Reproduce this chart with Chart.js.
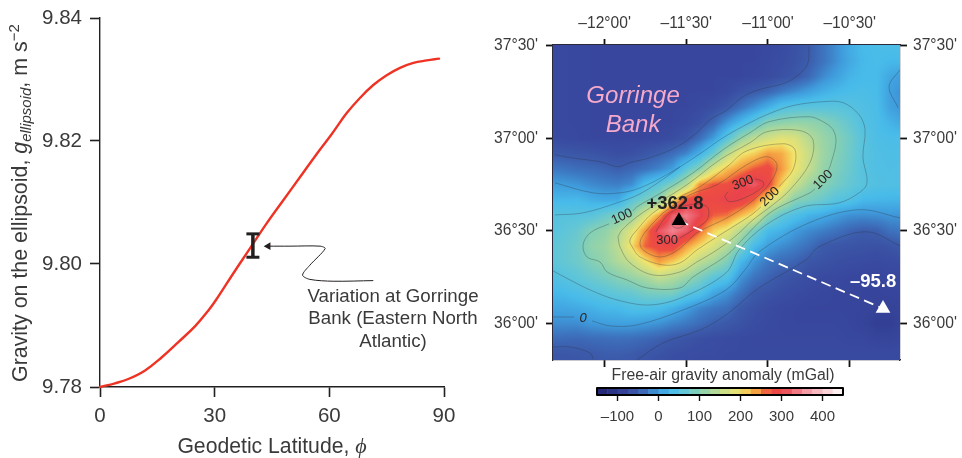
<!DOCTYPE html>
<html><head><meta charset="utf-8">
<script src="https://cdn.jsdelivr.net/npm/chart.js@4"></script>
<style>
html,body{margin:0;padding:0;background:#fff;width:962px;height:458px;overflow:hidden}
canvas{position:absolute;display:block}
</style></head><body>
<canvas id="gravity" width="480" height="458" style="left:0;top:0"></canvas>
<canvas id="map" width="482" height="458" style="left:480px;top:0"></canvas>
<canvas id="bar" width="482" height="98" style="left:480px;top:360px"></canvas>
<script>
const FONT='"Liberation Sans"', INK='#3a3a3a';
// ---- left panel data ----
const latitudes=[0,3.9,7.4,11.8,16.1,20.5,24.9,28.3,30.3,34.9,39.2,43.6,48,52.3,56.7,60.6,64.5,68,71.5,75,78.5,82,85.5,88.7];
const gravity=[9.78,9.7806,9.7813,9.7827,9.7848,9.7873,9.7899,9.7924,9.7941,9.7985,9.8025,9.8066,9.8104,9.8141,9.8179,9.8211,9.8245,9.827,9.8291,9.8307,9.8319,9.8327,9.8331,9.8334];
const gorringeRangeLat=[40,40];
const gorringeRangeG=[9.8011,9.8049];
const arrowLat=[71.5,61,54.9,53,54.9,58.9,57.6,49.7,44];
const arrowG=[9.7973,9.7972,9.7975,9.7982,9.7998,9.8025,9.8029,9.8029,9.8029];
const gravityYTicks=[9.78,9.80,9.82,9.84];
const gravityXTicks=[0,30,60,90];
// ---- map data ----
const gridLons=[-12.3333,-12.25,-12.1667,-12.0833,-12,-11.9167,-11.8333,-11.75,-11.6667,-11.5833,-11.5,-11.4167,-11.3333,-11.25,-11.1667,-11.0833,-11,-10.9167,-10.8333,-10.75,-10.6667,-10.5833,-10.5,-10.4167,-10.3333,-10.25,-10.1667];
const gridLats=[37.5,37.4167,37.3333,37.25,37.1667,37.0833,37,36.9167,36.8333,36.75,36.6667,36.5833,36.5,36.4167,36.3333,36.25,36.1667,36.0833,36,35.9167,35.8333,35.75];
const anomalyRows=[
[-72,-74,-75,-76,-76,-76,-76,-76,-76,-76,-76,-76,-76,-76,-76,-76,-74,-70,-62,-50,-30,-10,15,30,35,36,36],
[-72,-74,-75,-76,-76,-76,-76,-76,-76,-76,-76,-76,-76,-76,-76,-76,-72,-68,-60,-48,-30,-10,12,28,32,28,28],
[-72,-74,-75,-76,-76,-76,-76,-76,-76,-76,-76,-76,-76,-76,-76,-74,-70,-62,-54,-38,-14,4,22,30,30,10,0],
[-73,-74,-75,-76,-76,-76,-76,-76,-76,-76,-76,-76,-76,-72,-60,-50,-40,-24,-10,4,18,28,34,36,32,3,-10],
[-73,-74,-75,-76,-76,-76,-76,-76,-76,-76,-76,-72,-66,-52,-30,-8,18,44,52,54,54,54,50,42,34,5,-8],
[-73,-74,-75,-76,-76,-76,-76,-76,-76,-76,-72,-62,-40,-5,28,60,98,106,112,110,102,84,66,46,36,22,10],
[-70,-72,-74,-76,-76,-76,-76,-76,-74,-68,-58,-32,0,52,110,148,166,184,176,142,118,100,78,52,38,34,36],
[-50,-53,-56,-58,-62,-66,-63,-55,-46,-34,-16,20,70,145,196,212,240,232,198,160,122,98,76,52,42,38,40],
[-25,-28,-33,-36,-40,-46,-39,-30,-16,3,58,100,180,222,245,268,280,242,195,155,115,92,72,50,42,40,42],
[2,0,-4,-12,-18,-20,-10,35,56,90,140,245,270,272,300,318,285,212,160,120,102,82,66,53,44,42,42],
[27,26,28,18,12,14,58,85,110,200,280,290,285,300,298,262,205,155,100,88,72,52,45,28,25,24,22],
[50,50,50,53,70,88,110,175,235,320,340,305,265,258,225,195,110,62,42,22,14,2,-8,-10,-8,-4,-5],
[52,58,70,95,108,135,180,245,315,345,320,265,212,190,140,85,32,20,0,-12,-20,-30,-40,-48,-45,-30,-25],
[60,65,78,108,118,148,205,265,280,290,240,205,175,140,90,30,3,-10,-20,-32,-50,-55,-58,-60,-62,-58,-50],
[57,65,75,95,112,135,155,198,240,215,185,148,125,92,28,-5,-25,-35,-42,-55,-60,-65,-68,-70,-72,-70,-68],
[42,50,60,72,85,100,115,130,155,140,120,90,60,45,-5,-28,-42,-55,-62,-68,-72,-74,-76,-78,-78,-76,-76],
[27,30,38,48,55,65,70,85,90,90,60,45,12,-5,-28,-50,-58,-65,-70,-74,-76,-78,-78,-80,-80,-78,-78],
[10,10,14,20,28,30,40,40,35,20,3,-15,-25,-32,-52,-62,-70,-74,-76,-78,-78,-78,-78,-80,-82,-84,-80],
[-10,-10,-10,-2,2,4,4,0,-6,-16,-24,-35,-45,-52,-60,-68,-72,-75,-76,-76,-76,-76,-78,-82,-93,-92,-82],
[-35,-36,-38,-35,-34,-32,-34,-38,-44,-52,-58,-64,-68,-70,-72,-74,-74,-74,-74,-74,-74,-74,-76,-76,-80,-80,-76],
[-55,-55,-53,-51,-48,-47,-50,-55,-60,-65,-68,-70,-70,-72,-72,-72,-72,-72,-72,-72,-72,-72,-72,-72,-72,-72,-72],
[-62,-62,-60,-58,-55,-55,-58,-62,-68,-70,-72,-72,-73,-73,-73,-73,-73,-73,-73,-73,-73,-73,-73,-73,-73,-73,-73]
];
const colorStops=[-150,-100,-75,-50,-25,0,30,60,100,150,200,225,250,270,300,330,350,400,450];
const colorValues=['#23236f','#2f3a8e','#38489e','#3c5aaa','#3d78c2','#3f9cdc','#48bbea','#5fc5d8','#87d0b2','#c0dc8e','#f1e46c','#f6b84b','#f28a3c','#ed4f40','#e9434c','#ee6d78','#f28d98','#f9c6cc','#ffffff'];
const lonTicks=[-12,-11.5,-11,-10.5];
const lonTickLabels=["\u201312\u00b000'","\u201311\u00b030'","\u201311\u00b000'","\u201310\u00b030'"];
const latTicks=[36,36.5,37,37.5];
const latTickLabels=["36\u00b000'","36\u00b030'","37\u00b000'","37\u00b030'"];
const barTicks=[-100,0,100,200,300,400];
const peakSite=[-11.545,36.554];
const troughSite=[-10.296,36.081];
const lineMinus50Top=[[-12.304,36.911],[-12.212,36.895],[-12.028,36.873],[-11.918,36.846],[-11.845,36.868],[-11.722,36.895],[-11.557,36.954],[-11.435,37.030],[-11.355,37.100],[-11.257,37.149],[-11.153,37.224],[-11.055,37.262],[-10.890,37.300],[-10.798,37.354],[-10.755,37.408],[-10.749,37.495]];
const lineOuterLoop=[[-12.304,36.759],[-12.071,36.705],[-11.906,36.705],[-11.783,36.732],[-11.600,36.813],[-11.398,36.927],[-11.275,37.003],[-11.110,37.084],[-10.994,37.132],[-10.847,37.176],[-10.663,37.197],[-10.541,37.192],[-10.443,37.127],[-10.406,37.046],[-10.419,36.900],[-10.394,36.759],[-10.443,36.705],[-10.565,36.651],[-10.786,36.630],[-11.012,36.532],[-11.177,36.397],[-11.257,36.273],[-11.520,36.143],[-11.722,36.100],[-11.924,36.127],[-12.089,36.181],[-12.212,36.235],[-12.316,36.284]];
const lineLeftBranch=[[-12.304,36.586],[-12.132,36.597],[-11.924,36.651],[-11.783,36.700],[-11.630,36.786],[-11.539,36.846]];
const line100North=[[-11.826,36.608],[-11.802,36.630],[-11.643,36.711],[-11.459,36.813],[-11.275,36.938],[-11.110,37.030],[-10.994,37.089],[-10.749,37.116],[-10.663,37.089],[-10.602,37.046],[-10.584,36.976],[-10.621,36.846],[-10.633,36.824]];
const line100South=[[-10.712,36.727],[-10.743,36.705],[-10.927,36.630],[-11.018,36.576],[-11.141,36.468],[-11.257,36.365],[-11.459,36.251],[-11.539,36.192],[-11.741,36.192],[-11.863,36.235],[-11.985,36.278],[-12.028,36.332],[-12.108,36.359],[-12.132,36.424],[-12.089,36.489],[-11.973,36.538]];
const line150=[[-11.918,36.468],[-11.894,36.505],[-11.802,36.576],[-11.722,36.624],[-11.496,36.749],[-11.294,36.884],[-11.110,36.976],[-11.006,37.035],[-10.804,37.041],[-10.725,36.992],[-10.743,36.868],[-10.865,36.722],[-10.969,36.641],[-11.092,36.559],[-11.190,36.478],[-11.312,36.397],[-11.435,36.332],[-11.539,36.278],[-11.704,36.262],[-11.845,36.327],[-11.906,36.414],[-11.918,36.468]];
const line200=[[-10.933,36.738],[-10.847,36.830],[-10.835,36.938],[-10.908,36.970],[-11.129,36.932],[-11.251,36.846],[-11.416,36.738],[-11.539,36.684],[-11.704,36.597],[-11.802,36.505],[-11.845,36.451],[-11.832,36.414],[-11.783,36.359],[-11.643,36.316],[-11.539,36.327],[-11.435,36.397],[-11.312,36.468],[-11.214,36.522],[-11.092,36.592],[-11.043,36.630]];
const line250=[[-11.643,36.597],[-11.477,36.695],[-11.312,36.749],[-11.129,36.857],[-11.006,36.900],[-10.945,36.857],[-10.988,36.759],[-11.110,36.651],[-11.251,36.570],[-11.435,36.489],[-11.551,36.397],[-11.661,36.359],[-11.765,36.397],[-11.783,36.441],[-11.741,36.505],[-11.643,36.597]];
const line300East=[[-11.080,36.781],[-11.031,36.765],[-11.031,36.738],[-11.129,36.684],[-11.233,36.657],[-11.263,36.684],[-11.245,36.711]];
const line300West=[[-11.685,36.495],[-11.673,36.516],[-11.600,36.597],[-11.477,36.641],[-11.373,36.630],[-11.373,36.559],[-11.459,36.505],[-11.539,36.462]];
const line350=[[-11.588,36.549],[-11.551,36.576],[-11.496,36.549],[-11.539,36.516],[-11.581,36.522],[-11.588,36.549]];
const line0WestA=[[-12.316,36.035],[-12.187,36.035]];
const line0WestB=[[-12.077,36.014],[-11.967,35.987],[-11.802,35.992],[-11.520,36.073],[-11.257,36.181],[-11.141,36.289],[-11.055,36.386],[-10.749,36.543],[-10.443,36.614],[-10.192,36.570]];
const lineMinus50SW=[[-12.316,35.873],[-12.212,35.873],[-12.089,35.841],[-12.071,35.808]];
const lineMinus50S=[[-11.802,35.803],[-11.643,35.895],[-11.416,35.965],[-11.257,36.046],[-11.055,36.192],[-10.767,36.343],[-10.688,36.414],[-10.400,36.495],[-10.180,36.414]];
const lineEastEdge=[[-10.192,37.370],[-10.259,37.278],[-10.204,37.165]];
const contourLines=[lineMinus50Top,lineOuterLoop,lineLeftBranch,line100North,line100South,line150,line200,line250,line300East,line300West,line350,line0WestA,line0WestB,lineMinus50SW,lineMinus50S,lineEastEdge];
const noteTexts=[
 {t:'Variation at Gorringe',x:76.66,y:9.7946},
 {t:'Bank (Eastern North',x:76.66,y:9.7911},
 {t:'Atlantic)',x:76.66,y:9.7873}];
const mapTexts=[
 {t:'Gorringe',x:-11.826,y:37.225,f:'italic 24px '+FONT,c:'#f5a9cb'},
 {t:'Bank',x:-11.826,y:37.068,f:'italic 24px '+FONT,c:'#f5a9cb'},
 {t:'+362.8',x:-11.569,y:36.646,f:'bold 18.5px '+FONT,c:'#222'},
 {t:'\u201395.8',x:-10.357,y:36.224,f:'bold 18.5px '+FONT,c:'#fff'},
 {t:'100',x:-11.894,y:36.576,r:-25},
 {t:'100',x:-10.663,y:36.776,r:-45},
 {t:'200',x:-10.988,y:36.684,r:-45},
 {t:'300',x:-11.153,y:36.759,r:-20},
 {t:'300',x:-11.618,y:36.446},
 {t:'0',x:-12.132,y:36.030,f:'italic 13px '+FONT}];

function hexRGB(h){return [1,3,5].map(i=>parseInt(h.substr(i,2),16));}
const stopRGB=colorValues.map(hexRGB);
function colorFor(v){
  if(v<=colorStops[0])return stopRGB[0];
  for(let i=1;i<colorStops.length;i++){
    if(v<=colorStops[i]){
      const k=(v-colorStops[i-1])/(colorStops[i]-colorStops[i-1]),a=stopRGB[i-1],b=stopRGB[i];
      return [a[0]+(b[0]-a[0])*k,a[1]+(b[1]-a[1])*k,a[2]+(b[2]-a[2])*k];
    }
  }
  return stopRGB[stopRGB.length-1];
}
function cellValue(lon,lat){
  const dx=gridLons[1]-gridLons[0],dy=gridLats[1]-gridLats[0];
  let u=(lon-gridLons[0])/dx,w=(lat-gridLats[0])/dy;
  u=Math.max(0,Math.min(gridLons.length-1.001,u));w=Math.max(0,Math.min(gridLats.length-1.001,w));
  const i=Math.floor(u),j=Math.floor(w),a=u-i,b=w-j;
  return (anomalyRows[j][i]*(1-a)+anomalyRows[j][i+1]*a)*(1-b)+(anomalyRows[j+1][i]*(1-a)+anomalyRows[j+1][i+1]*a)*b;
}
const heatPlugin={id:'heat',beforeDatasetsDraw(c){
  const A=c.chartArea,w=Math.round(A.right-A.left),h=Math.round(A.bottom-A.top);
  const off=document.createElement('canvas');off.width=w;off.height=h;
  const o=off.getContext('2d'),img=o.createImageData(w,h);
  for(let py=0;py<h;py++){
    const lat=c.scales.y.getValueForPixel(A.top+py+.5);
    for(let px=0;px<w;px++){
      const lon=c.scales.x.getValueForPixel(A.left+px+.5);
      const col=colorFor(cellValue(lon,lat)),p=(py*w+px)*4;
      img.data[p]=col[0];img.data[p+1]=col[1];img.data[p+2]=col[2];img.data[p+3]=255;
    }
  }
  o.putImageData(img,0,0);c.ctx.drawImage(off,A.left,A.top);
}};
function drawTexts(c,list,defFont,defColor){
  const g=c.ctx;
  list.forEach(T=>{
    g.save();
    g.translate(c.scales.x.getPixelForValue(T.x),c.scales.y.getPixelForValue(T.y));
    if(T.r)g.rotate(T.r*Math.PI/180);
    g.font=T.f||defFont;g.fillStyle=T.c||defColor;g.textAlign='center';g.textBaseline='middle';
    g.fillText(T.t,0,0);g.restore();
  });
}
function drawRuns(g,runs,align){
  let tot=0;runs.forEach(r=>{g.font=r[1];tot+=g.measureText(r[0]).width;});
  let x=align==='center'?-tot/2:0;
  g.textAlign='left';g.textBaseline='alphabetic';
  runs.forEach(r=>{g.font=r[1];g.fillText(r[0],x,r[2]||0);x+=g.measureText(r[0]).width;});
}
const leftPlugin={id:'leftText',afterDatasetsDraw(c){
  const g=c.ctx;
  drawTexts(c,noteTexts,'18.7px '+FONT,INK);
  g.save();g.fillStyle=INK;g.translate(26.5,382);g.rotate(-Math.PI/2);
  const f='21.4px '+FONT,fi='italic 21.4px '+FONT,fs='italic 15px '+FONT,fu='15px '+FONT;
  drawRuns(g,[['Gravity on the ellipsoid, ',f],['g',fi],['ellipsoid',fs,4],[', m s',f],['\u22122',fu,-8]],'left');
  g.restore();
  g.save();g.fillStyle=INK;g.translate(272,453);
  const ft='21.2px '+FONT;
  drawRuns(g,[['Geodetic Latitude, ',ft],['\u03d5','italic 22px "Liberation Serif"']],'center');
  g.restore();
}};
const mapTextPlugin={id:'mapText',afterDatasetsDraw(c){drawTexts(c,mapTexts,'13px '+FONT,'#262626');}};
function pts(xs,ys){return xs.map((x,i)=>({x,y:ys[i]}));}
const fix=(prop,v)=>s=>{s[prop]=v;};
function axisBase(extra){return Object.assign({grid:{drawOnChartArea:false,tickLength:10,tickWidth:1.6,tickColor:'#231f20'},border:{color:'#231f20',width:1.4}},extra);}

new Chart(document.getElementById('gravity'),{type:'scatter',plugins:[leftPlugin],
 data:{datasets:[
  {data:pts([arrowLat[arrowLat.length-1]],[arrowG[arrowG.length-1]]),pointStyle:'triangle',rotation:-90,pointRadius:4.5,backgroundColor:'#231f20',borderColor:'#231f20',borderWidth:0},
  {data:pts(arrowLat,arrowG),showLine:true,borderColor:'#231f20',borderWidth:1,pointRadius:0,tension:.3},
  {data:pts(gorringeRangeLat,gorringeRangeG),showLine:true,borderColor:'#231f20',borderWidth:3.5,pointStyle:'line',pointRadius:6.5,pointBorderWidth:3,pointBorderColor:'#231f20'},
  {data:pts(latitudes,gravity),showLine:true,borderColor:'#ee3324',borderWidth:2.4,pointRadius:0,tension:.4,clip:false,borderCapStyle:'round'}
 ]},
 options:{responsive:false,animation:false,events:[],layout:{autoPadding:false,padding:{top:18,right:36,left:0,bottom:0}},
  plugins:{legend:{display:false},tooltip:{enabled:false}},
  scales:{
   x:axisBase({type:'linear',min:0,max:90,afterFit:fix('height',71),afterBuildTicks:s=>{s.ticks=gravityXTicks.map(value=>({value}));},
     ticks:{color:INK,font:{family:'Liberation Sans',size:20.5},padding:7,maxRotation:0,autoSkip:false}}),
   y:axisBase({type:'linear',min:9.78,max:9.84,afterFit:fix('width',100),afterBuildTicks:s=>{s.ticks=gravityYTicks.map(value=>({value}));},
     ticks:{color:INK,font:{family:'Liberation Sans',size:20.5,lineHeight:.85},padding:8,autoSkip:false,callback:v=>v.toFixed(2)}})
  }}});

function mapAxis(position,labels,vals,size,pad,show,min,max,len){
  return {type:'linear',position,min,max,
    afterFit:fix(position==='left'||position==='right'?'width':'height',size),
    afterBuildTicks:s=>{s.ticks=vals.map(value=>({value}));},
    grid:{drawOnChartArea:false,tickLength:len,tickWidth:1.8,tickColor:'#111'},
    border:{color:'#2a2a3a',width:1.2},
    ticks:{display:show,color:INK,font:{family:'Liberation Sans',size:15.6},padding:pad,autoSkip:false,maxRotation:0,align:'center',
      callback:v=>labels[vals.indexOf(v)]}};
}
const LON0=-12.316,LON1=-10.192,LAT0=35.803,LAT1=37.503;
const mapDatasets=[];
mapDatasets.push({data:[{x:peakSite[0],y:peakSite[1]}],pointStyle:'triangle',pointRadius:8.5,backgroundColor:'#000',borderWidth:0});
mapDatasets.push({data:[{x:troughSite[0],y:troughSite[1]}],pointStyle:'triangle',pointRadius:8.5,backgroundColor:'#fff',borderWidth:0});
mapDatasets.push({data:[peakSite,troughSite].map(p=>({x:p[0],y:p[1]})),showLine:true,borderColor:'#fff',borderWidth:1.8,borderDash:[10,5.5],pointRadius:0});
contourLines.forEach(l=>mapDatasets.push({data:l.map(p=>({x:p[0],y:p[1]})),showLine:true,pointRadius:0,borderColor:'rgba(45,50,60,.4)',borderWidth:.8,tension:.35}));
const heatCells={data:[],pointRadius:0};
anomalyRows.forEach((row,j)=>{heatCells.data.push(...row.map((v,i)=>({x:gridLons[i],y:gridLats[j],v})));});
mapDatasets.push(heatCells);

new Chart(document.getElementById('map'),{type:'scatter',plugins:[heatPlugin,mapTextPlugin],
 data:{datasets:mapDatasets},
 options:{responsive:false,animation:false,events:[],layout:{autoPadding:false,padding:0},
  plugins:{legend:{display:false},tooltip:{enabled:false}},
  scales:{
   x:mapAxis('top',lonTickLabels,lonTicks,45,6,true,LON0,LON1,6),
   xBottom:mapAxis('bottom',lonTickLabels,lonTicks,98,0,false,LON0,LON1,7),
   y:mapAxis('left',latTickLabels,latTicks,73,8,true,LAT0,LAT1,7),
   yRight:mapAxis('right',latTickLabels,latTicks,62,6,true,LAT0,LAT1,7)
  }}});

const barPlugin={id:'barPaint',beforeDatasetsDraw(c){
  const g=c.ctx,X=c.scales.x,A=c.chartArea;
  for(let v=-150;v<450;v+=25){
    const col=colorFor(v+12.5);
    g.fillStyle='rgb('+col.map(Math.round).join(',')+')';
    const a=X.getPixelForValue(v),b=X.getPixelForValue(v+25);
    g.fillRect(a,A.top,b-a+.5,A.bottom-A.top);
  }
},afterDatasetsDraw(c){
  const g=c.ctx,X=c.scales.x,A=c.chartArea;
  g.save();g.strokeStyle='#000';g.lineWidth=2;g.lineJoin='round';
  g.strokeRect(A.left,A.top,A.right-A.left,A.bottom-A.top);
  g.fillStyle=INK;g.font='15.8px '+FONT;g.textAlign='center';g.textBaseline='middle';
  g.fillText('Free-air gravity anomaly (mGal)',X.getPixelForValue(150)+3,16);
  g.restore();
}};
new Chart(document.getElementById('bar'),{type:'scatter',plugins:[barPlugin],
 data:{datasets:[{data:colorStops.map(v=>({x:v,y:0})),pointRadius:0}]},
 options:{responsive:false,animation:false,events:[],layout:{autoPadding:false,padding:{left:117,right:119,top:28,bottom:0}},
  plugins:{legend:{display:false},tooltip:{enabled:false}},
  scales:{
   x:{type:'linear',min:-150,max:450,position:'bottom',afterFit:fix('height',63),afterBuildTicks:s=>{s.ticks=barTicks.map(value=>({value}));},
      grid:{drawOnChartArea:false,tickLength:6,tickWidth:1.4,tickColor:'#111'},border:{display:false},
      ticks:{color:INK,font:{family:'Liberation Sans',size:15},padding:7,autoSkip:false,maxRotation:0,callback:v=>v<0?'\u2013'+Math.abs(v):String(v)}},
   y:{display:false,min:-1,max:1}
  }}});
</script>
</body></html>
